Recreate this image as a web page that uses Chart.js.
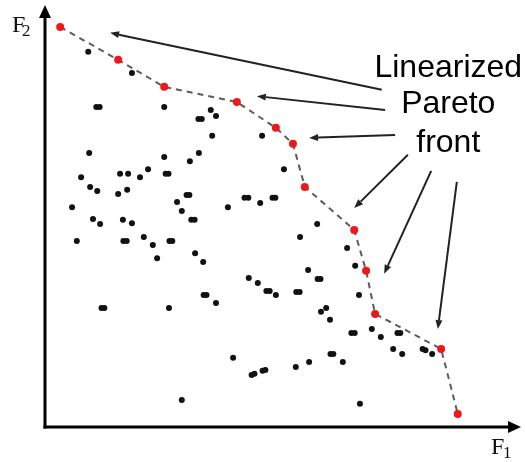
<!DOCTYPE html>
<html>
<head>
<meta charset="utf-8">
<script src="https://cdn.jsdelivr.net/npm/chart.js@4.4.1/dist/chart.umd.min.js"></script>
<style>
  html, body { margin: 0; padding: 0; background: #fff; }
  #wrap { width: 525px; height: 462px; }
</style>
</head>
<body>
<div id="wrap"><canvas id="front" width="525" height="462"></canvas></div>
<script>
// Pareto-optimal (red) solutions, F1 / F2 in arbitrary 0-100 units
const paretoF1 = [3.2, 15.4, 25.1, 40.4, 48.6, 52.2, 54.7, 65.1, 67.6, 69.5, 83.4, 86.9];
const paretoF2 = [94.8, 87.0, 80.6, 77.0, 70.9, 67.1, 56.9, 46.7, 37.0, 26.8, 18.5, 3.1];

// dominated (black) solutions
const otherF1 = [
  9.1, 18.3, 10.8, 11.5, 25.1, 32.3, 33.0, 34.9, 36.0, 35.2, 45.7,
  9.3, 25.1, 32.4, 30.5, 7.6, 15.8, 17.5, 21.7, 20.0, 25.4, 26.0,
  9.5, 11.0, 15.4, 17.3, 29.8, 30.4, 27.8, 28.8, 5.7, 38.5, 42.0, 42.8, 45.3, 47.9, 48.5,
  10.1, 11.6, 16.4, 18.3, 30.8, 31.5, 50.3, 57.3, 53.7, 63.6,
  6.7, 16.5, 17.2, 20.8, 22.7, 26.2, 26.8, 23.6, 31.6, 33.3, 42.9, 44.8,
  33.4, 34.0, 36.0, 11.9, 12.5, 26.1, 39.6, 43.5, 44.1, 45.8, 46.4, 28.8,
  65.3, 55.4, 57.4, 58.0, 46.6, 47.3, 48.6, 52.9, 53.6, 66.1, 59.2, 58.1, 60.0,
  64.5, 65.2, 68.8, 70.7, 74.2, 74.8, 73.3, 75.2, 79.5, 80.1, 81.5,
  52.8, 55.6, 60.1, 60.7, 62.7, 66.3
];
const otherF2 = [
  88.9, 83.9, 75.8, 75.8, 75.8, 73.0, 73.0, 75.1, 73.7, 69.0, 69.0,
  64.9, 64.0, 64.9, 63.0, 59.2, 60.0, 60.0, 61.1, 59.2, 60.0, 60.0,
  56.9, 55.9, 55.2, 56.2, 55.0, 55.0, 53.3, 51.2, 52.1, 52.1, 54.3, 54.3, 53.1, 54.3, 54.3,
  49.3, 48.1, 49.1, 48.3, 49.1, 49.1, 61.1, 48.1, 45.0, 42.4,
  44.1, 44.1, 44.1, 45.0, 43.1, 44.1, 44.1, 40.0, 41.2, 39.1, 35.3, 34.1,
  31.3, 31.3, 29.4, 28.2, 28.2, 28.2, 16.4, 12.3, 12.6, 13.3, 13.5, 6.4,
  38.2, 37.2, 35.1, 35.1, 32.2, 32.2, 31.3, 32.0, 32.0, 31.3, 28.2, 27.3, 25.4,
  22.3, 22.3, 23.2, 21.3, 22.3, 22.3, 18.5, 17.3, 18.5, 18.2, 17.3,
  14.2, 15.4, 17.3, 17.3, 15.4, 5.5
];

// callout text and its arrows (tail near the text, head at a front point)
const calloutLines = ['Linearized', 'Pareto', 'front'];
const calloutX = 84.9;
const calloutBaseF2 = [82.9, 74.4, 65.2];
const arrowTailF1 = [70.9, 71.6, 73.7, 76.4, 81.3, 86.7];
const arrowTailF2 = [79.9, 75.1, 69.2, 64.5, 60.7, 58.1];
const arrowHeadF1 = [13.7, 44.6, 55.6, 65.1, 71.4, 82.7];
const arrowHeadF2 = [93.4, 78.4, 68.5, 51.9, 36.3, 23.2];

const toPts = (xs, ys) => xs.map((x, i) => ({ x, y: ys[i] }));

function arrow(ctx, x1, y1, x2, y2, len, half) {
  const a = Math.atan2(y2 - y1, x2 - x1);
  const bx = x2 - len * Math.cos(a), by = y2 - len * Math.sin(a);
  ctx.beginPath();
  ctx.moveTo(x1, y1);
  ctx.lineTo(bx, by);
  ctx.stroke();
  ctx.beginPath();
  ctx.moveTo(x2, y2);
  ctx.lineTo(bx - half * Math.sin(a), by + half * Math.cos(a));
  ctx.lineTo(bx + half * Math.sin(a), by - half * Math.cos(a));
  ctx.closePath();
  ctx.fill();
}

// axes with arrow heads + axis names
const axesPlugin = {
  id: 'axes',
  beforeDatasetsDraw(chart) {
    const { ctx, chartArea: ca } = chart;
    ctx.save();
    ctx.strokeStyle = '#000';
    ctx.fillStyle = '#000';
    ctx.lineWidth = 3;
    arrow(ctx, ca.left, ca.bottom + 1.5, ca.left, ca.top, 13, 6);
    arrow(ctx, ca.left - 1.5, ca.bottom, ca.right + 1, ca.bottom, 13, 6);

    ctx.fillStyle = '#111';
    ctx.textBaseline = 'alphabetic';
    ctx.font = '24px "Liberation Serif", serif';
    ctx.fillText('F', 12, 32);
    ctx.fillText('F', 491, 454);
    ctx.font = '17px "Liberation Serif", serif';
    ctx.fillText('2', 22, 36);
    ctx.fillText('1', 503, 458);
    ctx.restore();
  },
  afterDatasetsDraw(chart) {
    const { ctx, scales: { x, y } } = chart;
    ctx.save();
    ctx.strokeStyle = '#222';
    ctx.fillStyle = '#222';
    ctx.lineWidth = 2;
    arrowTailF1.forEach((v, i) => {
      arrow(ctx,
        x.getPixelForValue(v), y.getPixelForValue(arrowTailF2[i]),
        x.getPixelForValue(arrowHeadF1[i]), y.getPixelForValue(arrowHeadF2[i]),
        9, 3.5);
    });
    ctx.fillStyle = '#000';
    ctx.font = '32px "Liberation Sans", Arial, sans-serif';
    ctx.textAlign = 'center';
    ctx.textBaseline = 'alphabetic';
    calloutLines.forEach((t, i) => {
      ctx.fillText(t, x.getPixelForValue(calloutX), y.getPixelForValue(calloutBaseF2[i]));
    });
    ctx.restore();
  }
};

new Chart(document.getElementById('front'), {
  type: 'scatter',
  data: {
    datasets: [
      {
        label: 'Pareto',
        data: toPts(paretoF1, paretoF2),
        pointRadius: 4,
        pointBackgroundColor: 'rgb(238,24,24)',
        pointBorderWidth: 0,
        order: 1
      },
      {
        label: 'front line',
        data: toPts(paretoF1, paretoF2),
        showLine: true,
        borderColor: '#5c5c5c',
        borderWidth: 2,
        borderDash: [6, 5],
        pointRadius: 0,
        order: 2
      },
      {
        label: 'solutions',
        data: toPts(otherF1, otherF2),
        pointRadius: 3,
        pointBackgroundColor: '#111',
        pointBorderWidth: 0,
        order: 3
      }
    ]
  },
  options: {
    responsive: false,
    animation: false,
    events: [],
    layout: { padding: { left: 45, right: 5, top: 5, bottom: 35 } },
    plugins: { legend: { display: false }, tooltip: { enabled: false } },
    scales: {
      x: { type: 'linear', min: 0, max: 100, display: false },
      y: { type: 'linear', min: 0, max: 100, display: false }
    }
  },
  plugins: [axesPlugin]
});
</script>
</body>
</html>
